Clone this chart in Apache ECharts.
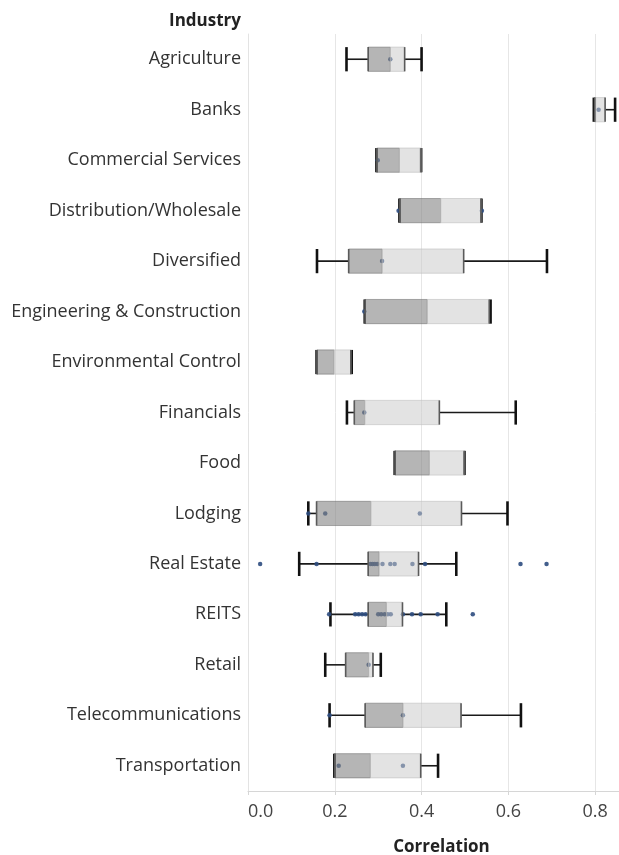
<!DOCTYPE html>
<html>
<head>
<meta charset="utf-8">
<script src="https://cdn.jsdelivr.net/npm/echarts@6/dist/echarts.min.js"></script>
<style>
  html, body { margin: 0; padding: 0; background: #fff; }
  #chart { width: 619px; height: 855px; }
</style>
</head>
<body>
<div id="chart"></div>
<script>
// Industries, top to bottom
const industries = [
  'Agriculture', 'Banks', 'Commercial Services', 'Distribution/Wholesale',
  'Diversified', 'Engineering & Construction', 'Environmental Control',
  'Financials', 'Food', 'Lodging', 'Real Estate', 'REITS', 'Retail',
  'Telecommunications', 'Transportation'
];

// Box plot statistics of correlation per industry
const whiskerLow  = [0.227, 0.797, 0.296, 0.349, 0.159, 0.269, 0.158, 0.228, 0.338, 0.139, 0.118, 0.190, 0.178, 0.188, 0.199];
const quartile1   = [0.277, 0.799, 0.297, 0.350, 0.232, 0.270, 0.159, 0.245, 0.339, 0.158, 0.277, 0.277, 0.225, 0.270, 0.200];
const medians     = [0.328, 0.801, 0.349, 0.444, 0.309, 0.413, 0.198, 0.269, 0.418, 0.283, 0.302, 0.319, 0.278, 0.357, 0.282];
const quartile3   = [0.361, 0.823, 0.399, 0.537, 0.497, 0.556, 0.237, 0.441, 0.499, 0.492, 0.393, 0.356, 0.288, 0.491, 0.398];
const whiskerHigh = [0.400, 0.846, 0.399, 0.538, 0.689, 0.559, 0.239, 0.617, 0.499, 0.598, 0.480, 0.457, 0.306, 0.629, 0.438];

// Individual company correlations per industry
const companyPoints = [
  [0.328],
  [0.808],
  [0.299],
  [0.347, 0.539],
  [0.309],
  [0.268],
  [],
  [0.268],
  [],
  [0.139, 0.178, 0.396],
  [0.028, 0.158, 0.282, 0.287, 0.292, 0.298, 0.310, 0.328, 0.338, 0.379, 0.408, 0.628, 0.688],
  [0.187, 0.247, 0.255, 0.263, 0.271, 0.300, 0.307, 0.315, 0.322, 0.329, 0.357, 0.378, 0.398, 0.437, 0.518],
  [0.278],
  [0.188, 0.357],
  [0.209, 0.357]
];

// Axis ticks
const axisMin = 0;
const axisMax = 0.855;
const tickStep = 0.2;

const boxData = industries.map((name, i) =>
  [i, whiskerLow[i], quartile1[i], medians[i], quartile3[i], whiskerHigh[i]]);

const scatterData = [];
companyPoints.forEach((vals, i) => vals.forEach(v => scatterData.push([v, i])));

const FONT = '"Open Sans", "Noto Sans", sans-serif';

function rowGeometry(api) {
  const cat = api.value(0);
  const xs = [1, 2, 3, 4, 5].map(k => api.coord([api.value(k), cat])[0]);
  const y = api.coord([api.value(1), cat])[1];
  const band = api.size([0, 1])[1];
  return { xs, y, h: band * 0.48 };
}

// Whiskers and end caps
function renderWhiskers(params, api) {
  const { xs, y, h } = rowGeometry(api);
  const [lo, q1, , q3, hi] = xs;
  const stroke = { stroke: '#1a1a1a', lineWidth: 1.6 };
  const cap = { stroke: '#111', lineWidth: 2.6 };
  return {
    type: 'group',
    children: [
      { type: 'line', shape: { x1: lo, y1: y, x2: q1, y2: y }, style: stroke },
      { type: 'line', shape: { x1: q3, y1: y, x2: hi, y2: y }, style: stroke },
      { type: 'line', shape: { x1: lo, y1: y - h / 2, x2: lo, y2: y + h / 2 }, style: cap },
      { type: 'line', shape: { x1: hi, y1: y - h / 2, x2: hi, y2: y + h / 2 }, style: cap }
    ]
  };
}

// Two-tone translucent box: lower quartile darker, upper quartile lighter
function renderBoxes(params, api) {
  const { xs, y, h } = rowGeometry(api);
  const [, q1, med, q3] = xs;
  const top = y - h / 2;
  return {
    type: 'group',
    children: [
      { type: 'rect', shape: { x: q1, y: top, width: med - q1, height: h },
        style: { fill: 'rgba(128,128,128,0.58)', stroke: 'rgba(110,110,110,0.55)', lineWidth: 1 } },
      { type: 'rect', shape: { x: med, y: top, width: q3 - med, height: h },
        style: { fill: 'rgba(200,200,200,0.5)', stroke: 'rgba(190,190,190,0.6)', lineWidth: 1 } },
      { type: 'line', shape: { x1: q1, y1: top, x2: q1, y2: top + h },
        style: { stroke: '#5a5a5a', lineWidth: 1.6 } },
      { type: 'line', shape: { x1: q3, y1: top, x2: q3, y2: top + h },
        style: { stroke: '#5a5a5a', lineWidth: 1.6 } }
    ]
  };
}

const chart = echarts.init(document.getElementById('chart'), null, { renderer: 'canvas' });

chart.setOption({
  animation: false,
  backgroundColor: '#fff',
  textStyle: { fontFamily: FONT },
  grid: { left: 248, right: 0, top: 34, bottom: 64, containLabel: false, outerBoundsMode: 'none' },
  graphic: [{
    type: 'text',
    right: 619 - 241,
    top: 13,
    style: { text: 'Industry', font: 'bold 17px ' + FONT, fill: '#222', textAlign: 'right' }
  }],
  xAxis: {
    type: 'value',
    min: axisMin,
    max: axisMax,
    interval: tickStep,
    name: 'Correlation',
    nameLocation: 'middle',
    nameGap: 48,
    nameTextStyle: { fontFamily: FONT, fontSize: 17, fontWeight: 'bold', color: '#222', padding: [0, 0, 0, 16] },
    axisLine: { show: true, lineStyle: { color: '#d6d6d6', width: 1 } },
    axisTick: { show: true, length: 4, lineStyle: { color: '#d6d6d6' } },
    axisLabel: {
      fontFamily: FONT, fontSize: 18, color: '#444', margin: 12,
      showMaxLabel: false, alignMinLabel: 'left',
      formatter: v => v.toFixed(1)
    },
    splitLine: { show: true, showMinLine: false, showMaxLine: false, lineStyle: { color: '#e6e6e6', width: 1 } }
  },
  yAxis: {
    type: 'category',
    data: industries,
    inverse: true,
    axisLine: { show: true, lineStyle: { color: '#e3e3e3', width: 1 } },
    axisTick: { show: false },
    axisLabel: { fontFamily: FONT, fontSize: 18, color: '#333', margin: 7 },
    splitLine: { show: false }
  },
  series: [
    {
      type: 'custom',
      name: 'whiskers',
      z: 1,
      renderItem: renderWhiskers,
      encode: { x: [1, 2, 3, 4, 5], y: 0 },
      data: boxData
    },
    {
      type: 'scatter',
      name: 'companies',
      z: 2,
      symbolSize: 4.5,
      itemStyle: { color: '#2d4d80', opacity: 0.9 },
      data: scatterData
    },
    {
      type: 'custom',
      name: 'boxes',
      z: 3,
      renderItem: renderBoxes,
      encode: { x: [1, 2, 3, 4, 5], y: 0 },
      data: boxData
    }
  ]
});
</script>
</body>
</html>
